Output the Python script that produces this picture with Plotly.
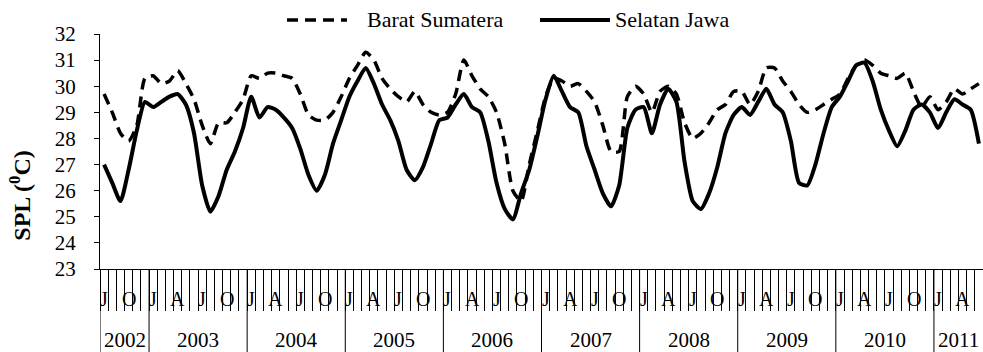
import plotly.graph_objects as go

# Monthly sea surface temperature (SPL, degC), July 2002 .. June 2011
barat_sumatera = [
    29.7, 29.0, 28.2, 27.9, 28.5, 30.3,                                   # 2002 Jul-Dec
    30.4, 30.1, 30.2, 30.6, 30.1, 29.5, 28.5, 27.8, 28.6, 28.6, 29.0, 29.5,  # 2003
    30.4, 30.3, 30.5, 30.5, 30.4, 30.3, 29.7, 28.9, 28.7, 28.7, 29.0, 29.6,  # 2004
    30.3, 30.8, 31.3, 31.0, 30.3, 29.9, 29.6, 29.4, 29.8, 29.3, 29.0, 28.9,  # 2005
    29.0, 29.7, 31.0, 30.4, 29.9, 29.6, 29.0, 27.8, 26.0, 25.6, 27.0, 28.3,  # 2006
    29.6, 30.3, 30.2, 30.0, 30.1, 29.8, 29.4, 28.5, 27.5, 27.5, 29.6, 30.0,  # 2007
    29.7, 29.0, 29.8, 30.0, 29.7, 28.6, 28.0, 28.2, 28.6, 29.1, 29.3, 29.8,  # 2008
    29.8, 29.3, 29.8, 30.7, 30.7, 30.2, 29.8, 29.3, 29.0, 29.1, 29.3, 29.5,  # 2009
    29.7, 30.3, 30.8, 31.0, 30.8, 30.5, 30.4, 30.3, 30.5, 29.8, 29.2, 29.6,  # 2010
    29.1, 29.4, 29.9, 29.7, 29.9, 30.1,                                   # 2011 Jan-Jun
]
selatan_jawa = [
    27.0, 26.3, 25.6, 26.8, 28.3, 29.4,
    29.2, 29.4, 29.6, 29.7, 29.3, 28.2, 26.2, 25.2, 25.8, 26.8, 27.5, 28.4,
    29.6, 28.8, 29.2, 29.1, 28.8, 28.4, 27.6, 26.6, 26.0, 26.6, 27.8, 28.7,
    29.6, 30.2, 30.7, 30.1, 29.3, 28.7, 27.9, 26.8, 26.4, 26.9, 27.8, 28.7,
    28.8, 29.3, 29.7, 29.2, 29.0, 27.9, 26.3, 25.3, 24.9, 25.9, 26.8, 28.1,
    29.5, 30.4, 29.8, 29.2, 29.0, 27.7, 26.8, 25.9, 25.4, 26.2, 28.4, 29.1,
    29.2, 28.2, 29.3, 29.9, 29.4, 27.1, 25.6, 25.3, 25.9, 26.9, 28.2, 28.9,
    29.2, 28.9, 29.4, 29.9, 29.3, 29.0, 27.9, 26.3, 26.2, 27.0, 28.2, 29.2,
    29.6, 30.2, 30.8, 30.9, 30.2, 29.1, 28.3, 27.7, 28.3, 29.1, 29.3, 29.0,
    28.4, 29.0, 29.5, 29.3, 29.1, 27.8,
]
series_names = ["Barat Sumatera", "Selatan Jawa"]
month_initials = ["J", "", "", "A", "", "", "J", "", "", "O", "", ""]  # Jan..Dec
years = ["2002", "2003", "2004", "2005", "2006", "2007", "2008", "2009", "2010", "2011"]
first_month = 6  # July (0 = January)
y_ticks = [23, 24, 25, 26, 27, 28, 29, 30, 31, 32]

FONT = "Liberation Serif"
DASH = "11px,7px"
n = len(selatan_jawa)
x_vals = [i + 0.5 for i in range(n)]

fig = go.Figure()
fig.add_trace(go.Scatter(
    x=x_vals, y=barat_sumatera, name=series_names[0], mode="lines",
    line=dict(color="black", width=3.5, dash=DASH, shape="spline", smoothing=0.6),
))
fig.add_trace(go.Scatter(
    x=x_vals, y=selatan_jawa, name=series_names[1], mode="lines",
    line=dict(color="black", width=4, shape="spline", smoothing=0.6),
))

annotations = []
shapes = []

# Month initials under the axis
for i in range(n):
    letter = month_initials[(first_month + i) % 12]
    if letter:
        annotations.append(dict(
            x=i + 0.5, y=-0.128, xref="x", yref="paper", text=letter, showarrow=False,
            font=dict(family=FONT, size=20, color="black"), yanchor="middle", xanchor="center",
        ))

# Year boundaries and labels
boundaries = [0]
m = 12 - first_month
while m < n:
    boundaries.append(m)
    m += 12
ends = boundaries[1:] + [n]
for b in boundaries:
    shapes.append(dict(type="line", xref="x", yref="paper", x0=b, x1=b, y0=0, y1=-0.36,
                       line=dict(color="black", width=1)))
for yr, a, b in zip(years, boundaries, ends):
    annotations.append(dict(
        x=(a + b) / 2, y=-0.3, xref="x", yref="paper", text=yr, showarrow=False,
        font=dict(family=FONT, size=21, color="black"), yanchor="middle", xanchor="center",
    ))

# Y axis title
annotations.append(dict(
    x=-0.09, y=0.31, xref="paper", yref="paper", text="<b>SPL (<sup>0</sup>C)</b>",
    textangle=-90, showarrow=False, font=dict(family=FONT, size=24, color="black"),
    xanchor="center", yanchor="middle",
))

# Legend (keys drawn above the plot)
legend_y = 1.06
legend_keys = [
    dict(x0=0.2118, x1=0.2797, text_x=0.3001, dash=DASH, width=3.5),
    dict(x0=0.4983, x1=0.5776, text_x=0.5810, dash="solid", width=4),
]
for name, key in zip(series_names, legend_keys):
    shapes.append(dict(type="line", xref="paper", yref="paper", x0=key["x0"], x1=key["x1"],
                       y0=legend_y, y1=legend_y,
                       line=dict(color="black", width=key["width"], dash=key["dash"])))
    annotations.append(dict(
        x=key["text_x"], y=legend_y, xref="paper", yref="paper", text=name, showarrow=False,
        font=dict(family=FONT, size=22, color="black"), xanchor="left", yanchor="middle",
    ))

fig.update_layout(
    width=983, height=352,
    margin=dict(l=100, r=0, t=34, b=83, autoexpand=False),
    paper_bgcolor="white", plot_bgcolor="white",
    font=dict(family=FONT, color="black"),
    showlegend=False,
    xaxis=dict(range=[0, n], tickvals=list(range(0, n + 1)), ticks="outside", ticklen=41,
               tickwidth=1, tickcolor="black", showticklabels=False, showline=True,
               linecolor="black", linewidth=1, showgrid=False, zeroline=False),
    yaxis=dict(range=[23, 32], tickvals=y_ticks, ticks="outside", ticklen=5, tickwidth=1,
               tickcolor="black", showline=True, linecolor="black", linewidth=1,
               showgrid=False, zeroline=False, ticklabelstandoff=14,
               tickfont=dict(family=FONT, size=21, color="black")),
    annotations=annotations,
    shapes=shapes,
)

fig.write_html("out.html", config={"displayModeBar": False},
               post_script="document.body.style.margin='0px';")
